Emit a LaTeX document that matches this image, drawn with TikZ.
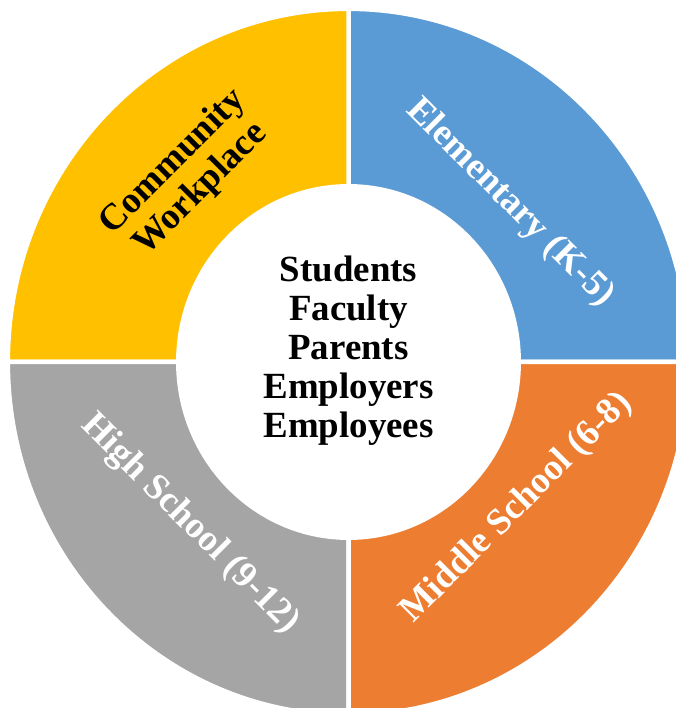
\documentclass[tikz,border=0pt]{standalone}
\usepackage{fontspec}
\setmainfont{Liberation Serif}
\usetikzlibrary{positioning}
\definecolor{ringblue}{HTML}{5B9BD5}
\definecolor{ringyellow}{HTML}{FFC000}
\definecolor{ringgray}{HTML}{A5A5A5}
\definecolor{ringorange}{HTML}{ED7D31}
\tikzset{x=0.02cm, y=0.02cm,
  ringtext/.style={font=\bfseries\fontsize{21}{22.2}\selectfont, align=center},
  sector/.style={draw=white, line width=0.09cm, shift={(C)}}}

\begin{document}
\begin{tikzpicture}

    \clip (0,0) rectangle (676,708);
    \coordinate (C) at (348.5,346);

    \filldraw[sector, fill=ringblue] (0:6.815cm and 7.065cm) arc[start angle=0, end angle=90, x radius=6.815cm, y radius=7.065cm]
        -- (90:3.405cm and 3.515cm) arc[start angle=90, end angle=0, x radius=3.405cm, y radius=3.515cm] -- cycle;
    \filldraw[sector, fill=ringyellow] (90:6.815cm and 7.065cm) arc[start angle=90, end angle=180, x radius=6.815cm, y radius=7.065cm]
        -- (180:3.405cm and 3.515cm) arc[start angle=180, end angle=90, x radius=3.405cm, y radius=3.515cm] -- cycle;
    \filldraw[sector, fill=ringgray] (180:6.815cm and 7.065cm) arc[start angle=180, end angle=270, x radius=6.815cm, y radius=7.065cm]
        -- (270:3.405cm and 3.515cm) arc[start angle=270, end angle=180, x radius=3.405cm, y radius=3.515cm] -- cycle;
    \filldraw[sector, fill=ringorange] (270:6.815cm and 7.065cm) arc[start angle=270, end angle=360, x radius=6.815cm, y radius=7.065cm]
        -- (360:3.405cm and 3.515cm) arc[start angle=360, end angle=270, x radius=3.405cm, y radius=3.515cm] -- cycle;

    \node[ringtext, text=white, rotate=-45] (elementary) at (510,505) {Elementary (K-5)};
    \node[ringtext, text=white, rotate=45] (middle) at (517,200) {Middle School (6-8)};
    \node[ringtext, text=white, rotate=-45] (high) at (190,184) {High School (9-12)};
    \node[ringtext, rotate=45] (community) at (187,532) {Community\\Workplace};
    \node[ringtext] (people) at (348.5,357) {Students\\Faculty\\Parents\\Employers\\Employees};

\end{tikzpicture}
\end{document}
